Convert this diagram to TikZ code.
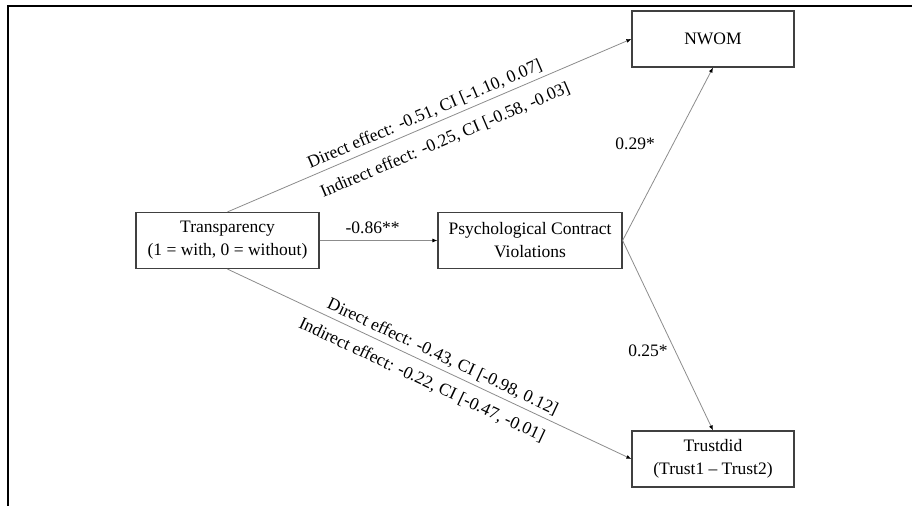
\documentclass[tikz,border=0pt]{standalone}
\usepackage{fontspec}
\setmainfont{Liberation Serif}
\usetikzlibrary{arrows.meta}

\begin{document}
\begin{tikzpicture}[x=1bp,y=-1bp,font=\fontsize{17.5bp}{23bp}\selectfont]

        \useasboundingbox (0,0) rectangle (912,506);
        \draw[line width=2bp] (912,6) -- (8,6) -- (8,506);

        \begin{scope}[every node/.style={draw=black!75,line width=1.2bp,align=center,minimum height=56bp,inner sep=2bp}]
          \node[minimum width=183bp] (trans) at (227.5,240.5) {Transparency\\(1 = with, 0 = without)};
          \node[minimum width=184bp] (pcv)   at (530,240.5)   {Psychological Contract\\Violations};
          \node[minimum width=162bp] (nwom)  at (713,39)      {NWOM};
          \node[minimum width=162bp] (trust) at (713,459)     {Trustdid\\(Trust1 – Trust2)};
        \end{scope}

        \begin{scope}[every node/.style={inner sep=2bp}]

          \begin{scope}[every edge/.style={draw=black!45,line width=0.8bp,-{Latex[length=5bp,width=4bp,color=black]}}]
            \path (trans)       edge node[above=4bp,pos=0.45] {-0.86**} (pcv);
            \path (trans.north) edge node[sloped,above=2bp,pos=0.5] {Direct effect: -0.51, CI [-1.10, 0.07]}
                                     node[sloped,below=10bp,pos=0.52] {Indirect effect: -0.25, CI [-0.58, -0.03]} (nwom.west);
            \path (trans.south) edge node[sloped,above=2bp,pos=0.52] {Direct effect: -0.43, CI [-0.98, 0.12]}
                                     node[sloped,below=8bp,pos=0.5] {Indirect effect: -0.22, CI [-0.47, -0.01]} (trust.west);
            \path (pcv.east)    edge node[left=16bp,pos=0.56] {0.29*} (nwom.south);
            \path (pcv.east)    edge node[left=5bp,pos=0.58] {0.25*} (trust.north);
          \end{scope}
        \end{scope}

      \end{tikzpicture}
\end{document}
